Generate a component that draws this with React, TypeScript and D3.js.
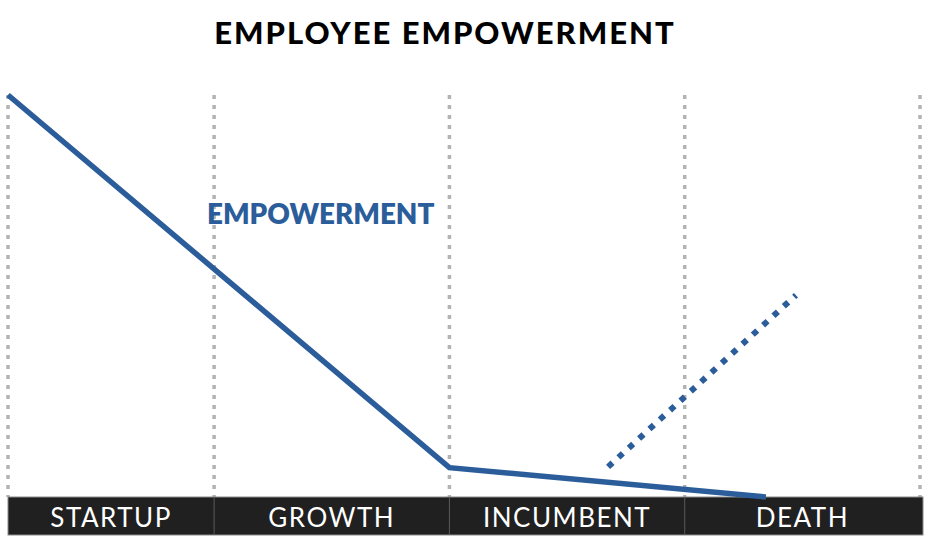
import React from "react";
import * as d3 from "d3";

const stages = ["STARTUP", "GROWTH", "INCUMBENT", "DEATH"];
const stageBounds = [0, 22.6, 48.4, 74.2, 100];
const empowermentX = [0, 48.4, 83.1];
const empowermentY = [100, 7.3, 0];
const projectionX = [65.8, 86.4];
const projectionY = [7.5, 50.2];

const W = 938, H = 556;
const BLUE = "#2c5d9b";

export default function App() {
  const x = d3.scaleLinear().domain([0, 100]).range([8, 920]);
  const y = d3.scaleLinear().domain([0, 100]).range([497, 95]);
  const mainPts: [number, number][] = empowermentX.map((v, i) => [x(v), y(empowermentY[i])]);
  const projPts: [number, number][] = projectionX.map((v, i) => [x(v), y(projectionY[i])]);
  const l = d3.line();
  const bandTop = y(0);
  const bandBottom = 535;
  return (
    <svg width={W} height={H} style={{ position: "absolute", left: 0, top: 0, background: "#fff" }}>
      <rect x={0} y={0} width={W} height={H} fill="#fff" />
      <text x={445} y={44} textAnchor="middle" fontFamily="Lato, sans-serif" fontWeight={900} fontSize={31} letterSpacing={2} fill="#000">
        EMPLOYEE EMPOWERMENT
      </text>
      {stageBounds.map((b, i) => (
        <line key={"g" + i} x1={x(b)} x2={x(b)} y1={y(100)} y2={bandTop}
          stroke="#b3b3b3" strokeWidth={3.5} strokeDasharray="4 6" />
      ))}
      <rect x={x(0)} y={bandTop} width={x(100) + 3 - x(0)} height={bandBottom - bandTop} fill="#202020" stroke="#8a8a8a" strokeWidth={1} />
      {stageBounds.slice(1, -1).map((b, i) => (
        <line key={"d" + i} x1={x(b)} x2={x(b)} y1={bandTop} y2={bandBottom} stroke="#5a5a5a" strokeWidth={1} />
      ))}
      {stages.map((s, i) => (
        <text key={s} x={(x(stageBounds[i]) + x(stageBounds[i + 1])) / 2} y={527}
          textAnchor="middle" fontFamily="Lato, sans-serif" fontSize={26} letterSpacing={1.5} fill="#fff">
          {s}
        </text>
      ))}
      <path d={l(mainPts) || ""} fill="none" stroke={BLUE} strokeWidth={5.5} strokeLinejoin="miter" />
      <path d={l(projPts) || ""} fill="none" stroke={BLUE} strokeWidth={6} strokeDasharray="6 8" />
      <text x={207} y={224} fontFamily="Lato, sans-serif" fontWeight={800} fontSize={27.8} fill={BLUE}>
        EMPOWERMENT
      </text>
    </svg>
  );
}
